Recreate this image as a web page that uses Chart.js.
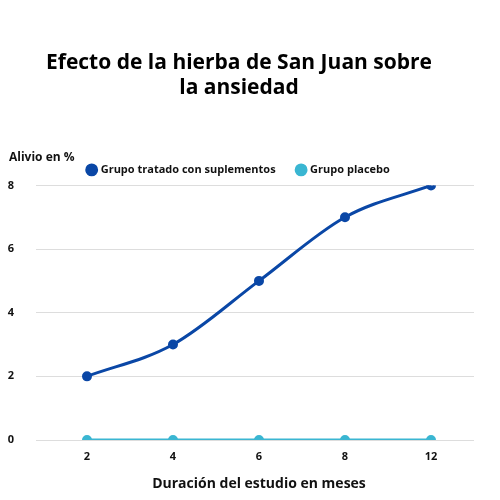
<!DOCTYPE html>
<html>
<head>
<meta charset="utf-8">
<script src="https://cdn.jsdelivr.net/npm/chart.js@4"></script>
<style>
  body { margin: 0; background: #fff; }
  #wrap { width: 500px; height: 500px; }
</style>
</head>
<body>
<div id="wrap"><canvas id="c"></canvas></div>
<script>
const months = ["2", "4", "6", "8", "12"];
const treated = [2, 3, 5, 7, 8];
const placebo = [0, 0, 0, 0, 0];
const yTicks = [0, 2, 4, 6, 8];

Chart.defaults.font.family = "'Open Sans', sans-serif";
Chart.defaults.color = "#111";

// horizontal y axis title above the plot
const yTitle = {
  id: "yTitle",
  afterDraw(chart) {
    let ctx = chart.ctx;
    ctx.save();
    ctx.font = "bold 12px 'Open Sans', sans-serif";
    ctx.fillStyle = "#111";
    ctx.textBaseline = "middle";
    ctx.fillText("Alivio en %", 9, 158);
    ctx.restore();
  }
};

new Chart(document.getElementById("c"), {
  type: "line",
  data: {
    labels: months,
    datasets: [
      {
        label: "Grupo tratado con suplementos",
        data: treated,
        borderColor: "#0a47a6",
        backgroundColor: "#0a47a6",
        borderWidth: 3,
        pointRadius: 3.5,
        cubicInterpolationMode: "monotone"
      },
      {
        label: "Grupo placebo",
        data: placebo,
        borderColor: "#3ab6d2",
        backgroundColor: "#3ab6d2",
        borderWidth: 3,
        pointRadius: 3.5
      }
    ]
  },
  options: {
    responsive: true,
    maintainAspectRatio: false,
    animation: false,
    layout: { padding: { left: 4, right: 26, bottom: 4 } },
    plugins: {
      title: {
        display: true,
        text: ["Efecto de la hierba de San Juan sobre", "la ansiedad"],
        font: { size: 21, weight: "bold" },
        color: "#000",
        padding: { top: 50, bottom: 42 },
        lineHeight: 1.3
      },
      legend: {
        align: "center",
        labels: {
          usePointStyle: true,
          pointStyle: "circle",
          boxWidth: 7,
          boxHeight: 7,
          font: { size: 11, weight: "bold" },
          padding: 22
        }
      }
    },
    scales: {
      x: {
        offset: true,
        grid: { display: false },
        border: { display: false },
        ticks: { font: { size: 11, weight: "bold" }, padding: 2 },
        title: {
          display: true,
          text: "Duración del estudio en meses",
          font: { size: 14, weight: "bold" },
          padding: { top: 10 }
        }
      },
      y: {
        min: 0,
        max: 8,
        afterBuildTicks: (s) => { s.ticks = yTicks.map(v => ({ value: v })); },
        afterFit: (s) => { s.width = 40; },
        grid: { color: "#dddddd" },
        border: { display: false },
        ticks: { font: { size: 11, weight: "bold" }, padding: 22 }
      }
    }
  },
  plugins: [yTitle]
});
</script>
</body>
</html>
